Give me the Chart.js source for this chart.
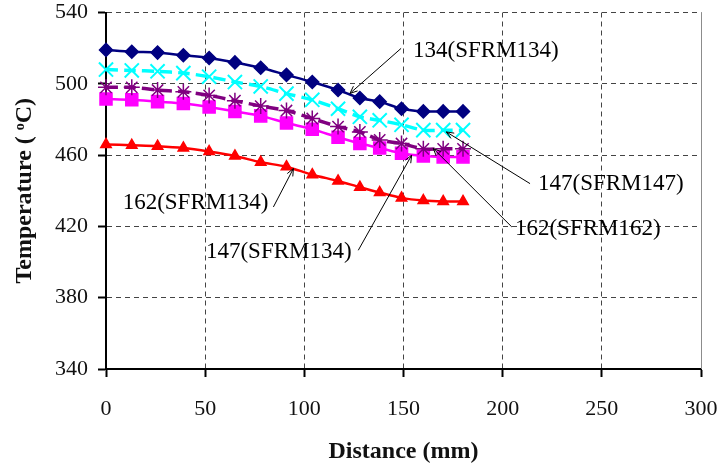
<!DOCTYPE html>
<html lang="en">
<head>
    <meta charset="UTF-8">
    <title>Temperature vs distance</title>
    <style>
        html, body { margin: 0; padding: 0; background: #fff; }
        #wrap { width: 722px; height: 469px; }
    </style>
</head>
<body>
<div id="wrap"><canvas id="tempChart" width="722" height="469"></canvas></div>

<script src="https://cdn.jsdelivr.net/npm/chart.js"></script>
<script>
    // Distance along the member (mm)
    const distance = [0, 13, 26, 39, 52, 65, 78, 91, 104, 117, 128, 138, 149, 160, 170, 180];

    // Temperatures (°C)
    const t134_SFRM134 = [519, 518, 517.5, 516, 514.5, 512, 509, 505, 501, 496.5, 492, 490, 486, 484.5, 484.5, 484.5];
    const t147_SFRM147 = [508, 507.5, 507, 506, 504, 501, 498.5, 494.5, 491, 486, 481.5, 479.5, 477, 474, 474, 474];
    const t162_SFRM162 = [498, 498, 496.5, 495.5, 493.5, 490.5, 487.5, 485, 480.5, 476, 473, 468.5, 466.5, 463.5, 463.5, 463.5];
    const t147_SFRM134 = [491.5, 491, 490, 489, 487, 484.5, 482, 478, 474.5, 470, 466.5, 464, 461, 459.5, 459, 459];
    const t162_SFRM134 = [466, 465.5, 465, 464, 462, 459.5, 456, 453.5, 449, 445.5, 442, 439, 436, 434.5, 434, 434];

    const xTicks = [0, 50, 100, 150, 200, 250, 300];
    const yTicks = [340, 380, 420, 460, 500, 540];

    // callout labels: text, where the text starts, and the arrow (data units)
    const callouts = [
        { text: '134(SFRM134)', at: [154.8, 518.4], from: [148.8, 519.9], to: [123, 494.6] },
        { text: '147(SFRM147)', at: [217.8, 444.0], from: [213.8, 444.0], to: [171.6, 473.0] },
        { text: '162(SFRM162)', at: [206.2, 418.6], from: [204.6, 419.7], to: [165, 463.7] },
        { text: '147(SFRM134)', at: [50.4, 405.6], from: [127.2, 406.6], to: [154.1, 459.9] },
        { text: '162(SFRM134)', at: [8.4, 433.1], from: [84.4, 430.9], to: [94.5, 452.5] }
    ];

    const serif = '"Liberation Serif", "Times New Roman", serif';

    function pts(values) {
        return distance.map((d, i) => ({ x: d, y: values[i] }));
    }

    function series(label, values, color, style, radius, dash, width, pw) {
        return {
            label: label,
            data: pts(values),
            borderColor: color,
            backgroundColor: color,
            borderWidth: width,
            borderDash: dash,
            pointStyle: style,
            pointRadius: radius,
            pointBackgroundColor: color,
            pointBorderColor: color,
            pointBorderWidth: pw,
            tension: 0.3,
            fill: false,
            clip: false
        };
    }

    const calloutPlugin = {
        id: 'callouts',
        afterDatasetsDraw(chart) {
            const ctx = chart.ctx;
            const xs = chart.scales.x, ys = chart.scales.y;
            const area = chart.chartArea;

            // right frame line
            ctx.save();
            ctx.strokeStyle = '#8c8c8c';
            ctx.lineWidth = 1;
            ctx.beginPath();
            ctx.moveTo(area.right + 0.5, area.top);
            ctx.lineTo(area.right + 0.5, area.bottom);
            ctx.stroke();

            ctx.font = '23px ' + serif;
            ctx.fillStyle = '#000';
            ctx.textBaseline = 'middle';
            ctx.textAlign = 'left';
            callouts.forEach(c => {
                const tx = xs.getPixelForValue(c.at[0]), ty = ys.getPixelForValue(c.at[1]);
                ctx.fillText(c.text, tx, ty);

                const x1 = xs.getPixelForValue(c.from[0]), y1 = ys.getPixelForValue(c.from[1]);
                const x2 = xs.getPixelForValue(c.to[0]), y2 = ys.getPixelForValue(c.to[1]);
                ctx.strokeStyle = '#000';
                ctx.lineWidth = 1;
                ctx.beginPath();
                ctx.moveTo(x1, y1);
                ctx.lineTo(x2, y2);
                const a = Math.atan2(y2 - y1, x2 - x1);
                const len = 8, spread = 0.4;
                ctx.moveTo(x2, y2);
                ctx.lineTo(x2 - len * Math.cos(a - spread), y2 - len * Math.sin(a - spread));
                ctx.moveTo(x2, y2);
                ctx.lineTo(x2 - len * Math.cos(a + spread), y2 - len * Math.sin(a + spread));
                ctx.stroke();
            });
            ctx.restore();
        }
    };

    const ctx = document.getElementById('tempChart').getContext('2d');
    const chart = new Chart(ctx, {
        type: 'line',
        data: {
            datasets: [
                series('134(SFRM134)', t134_SFRM134, '#000080', 'rectRot', 6.5, [], 2.5, 1.5),
                series('147(SFRM147)', t147_SFRM147, '#00FFFF', 'crossRot', 10, [12, 6], 3.5, 2),
                series('162(SFRM162)', t162_SFRM162, '#800080', 'star', 8, [12, 6], 3.5, 1.5),
                series('147(SFRM134)', t147_SFRM134, '#FF00FF', 'rect', 8.5, [], 2.5, 1.5),
                series('162(SFRM134)', t162_SFRM134, '#FF0000', 'triangle', 6, [], 2.5, 1.5)
            ]
        },
        options: {
            responsive: false,
            animation: false,
            layout: { padding: { top: 12.5, right: 21, left: 0, bottom: 0 } },
            plugins: {
                legend: { display: false },
                tooltip: { enabled: false }
            },
            scales: {
                x: {
                    type: 'linear',
                    min: 0,
                    max: 300,
                    afterFit: s => { s.height = 100; s.paddingLeft = 0; s.paddingRight = 0; },
                    afterBuildTicks: s => { s.ticks = xTicks.map(v => ({ value: v })); },
                    ticks: {
                        color: '#111',
                        padding: 21,
                        maxRotation: 0,
                        font: { family: serif, size: 22, lineHeight: 1 }
                    },
                    grid: {
                        color: '#444',
                        lineWidth: 1,
                        tickColor: '#000',
                        tickWidth: 2,
                        tickLength: 8
                    },
                    border: { color: '#000', width: 2, dash: [5, 4] },
                    title: {
                        display: true,
                        text: 'Distance (mm)',
                        color: '#111',
                        padding: { top: 0, bottom: 3 },
                        font: { family: serif, size: 24, weight: 'bold' }
                    }
                },
                y: {
                    min: 340,
                    max: 540,
                    afterFit: s => { s.width = 106; s.paddingTop = 0; s.paddingBottom = 0; },
                    afterBuildTicks: s => { s.ticks = yTicks.map(v => ({ value: v })); },
                    ticks: {
                        color: '#111',
                        padding: 10,
                        font: { family: serif, size: 22, lineHeight: 1 }
                    },
                    grid: {
                        color: '#444',
                        lineWidth: 1,
                        tickColor: '#000',
                        tickWidth: 2,
                        tickLength: 8
                    },
                    border: { color: '#000', width: 2, dash: [5, 4] },
                    title: {
                        display: true,
                        text: 'Temperature ( ᵒC)',
                        color: '#111',
                        padding: { top: 10, bottom: 0 },
                        font: { family: serif, size: 24, weight: 'bold' }
                    }
                }
            }
        },
        plugins: [calloutPlugin]
    });
</script>
</body>
</html>
